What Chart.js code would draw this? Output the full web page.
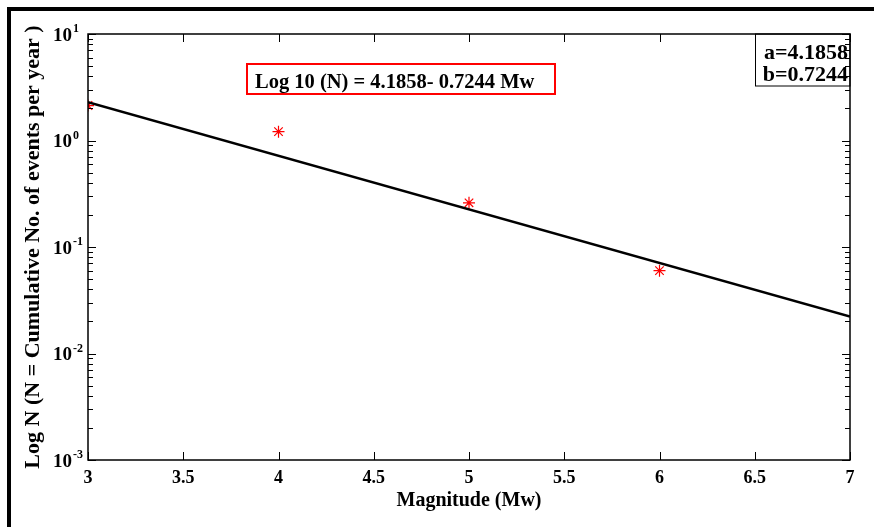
<!DOCTYPE html>
<html>
<head>
<meta charset="utf-8">
<script src="https://cdn.jsdelivr.net/npm/chart.js@4"></script>
<style>
  html, body { margin: 0; padding: 0; background: #fff; }
  #wrap { width: 874px; height: 527px; }
</style>
</head>
<body>
<div id="wrap"><canvas id="chart" width="874" height="527"></canvas></div>
<script>
// observed points (cumulative events per year)
const magnitudes = [3, 4, 5, 6];
const cumulativeN = [2.13, 1.21, 0.26, 0.060];

// fitted line end points as drawn
const fitMagnitudes = [3, 7];
const fitN = [2.29, 0.0222];

const xTicks = [3, 3.5, 4, 4.5, 5, 5.5, 6, 6.5, 7];
const yDecades = [1e-3, 1e-2, 1e-1, 1, 10];
const yExponents = ["-3", "-2", "-1", "0", "1"];

const equationText = "Log 10 (N) = 4.1858- 0.7244 Mw";
const paramLines = ["a=4.1858", "b=0.7244"];

const serif = "'Liberation Serif', 'Times New Roman', serif";

const decor = {
  id: "decor",
  beforeDraw(chart) {
    const c = chart.ctx;
    c.save();
    c.fillStyle = "#fff";
    c.fillRect(0, 0, chart.width, chart.height);
    // outer frame (top and left visible)
    c.fillStyle = "#000";
    c.fillRect(7, 7, chart.width - 7, 4);
    c.fillRect(7, 7, 4, chart.height - 7);
    c.restore();
  },
  afterDraw(chart) {
    const c = chart.ctx;
    const a = chart.chartArea;
    const xs = chart.scales.x, ys = chart.scales.y;
    c.save();
    c.strokeStyle = "#000";
    c.lineWidth = 1.5;
    c.strokeRect(a.left, a.top, a.right - a.left, a.bottom - a.top);

    // x ticks, inward top and bottom
    c.lineWidth = 1;
    c.beginPath();
    xTicks.forEach(v => {
      const px = Math.round(xs.getPixelForValue(v)) + 0.5;
      c.moveTo(px, a.bottom); c.lineTo(px, a.bottom - 8);
      c.moveTo(px, a.top); c.lineTo(px, a.top + 8);
    });
    // y ticks, major and minor, inward on both sides
    yDecades.forEach((d, i) => {
      const py = Math.round(ys.getPixelForValue(d)) + 0.5;
      c.moveTo(a.left, py); c.lineTo(a.left + 8, py);
      c.moveTo(a.right, py); c.lineTo(a.right - 8, py);
      if (i < yDecades.length - 1) {
        for (let k = 2; k <= 9; k++) {
          const pm = Math.round(ys.getPixelForValue(d * k)) + 0.5;
          c.moveTo(a.left, pm); c.lineTo(a.left + 5, pm);
          c.moveTo(a.right, pm); c.lineTo(a.right - 5, pm);
        }
      }
    });
    c.stroke();

    // y tick labels 10^n
    c.fillStyle = "#000";
    yDecades.forEach((d, i) => {
      const py = ys.getPixelForValue(d);
      c.font = "bold 19px " + serif;
      c.textAlign = "right";
      c.textBaseline = "middle";
      c.fillText("10", 72, py + 2);
      c.font = "bold 12px " + serif;
      c.textAlign = "left";
      c.fillText(yExponents[i], 73, py - 5);
    });

    // equation box
    c.strokeStyle = "#ff0000";
    c.lineWidth = 2;
    c.strokeRect(247, 64, 308, 30);
    c.font = "bold 20.5px " + serif;
    c.textAlign = "left";
    c.textBaseline = "alphabetic";
    c.fillText(equationText, 255, 88);

    // parameters box
    c.strokeStyle = "#000";
    c.lineWidth = 1;
    c.strokeRect(755.5, a.top, a.right - 755.5, 52);
    c.font = "bold 22px " + serif;
    c.textAlign = "right";
    c.fillText(paramLines[0], a.right - 2, 59);
    c.fillText(paramLines[1], a.right - 2, 81);
    c.restore();
  }
};

new Chart(document.getElementById("chart"), {
  type: "scatter",
  data: {
    datasets: [
      {
        label: "fit",
        data: fitMagnitudes.map((m, i) => ({ x: m, y: fitN[i] })),
        showLine: true,
        borderColor: "#000",
        borderWidth: 2.5,
        pointRadius: 0
      },
      {
        label: "observed",
        data: magnitudes.map((m, i) => ({ x: m, y: cumulativeN[i] })),
        pointStyle: "star",
        pointRadius: 6,
        borderColor: "#ff0000",
        backgroundColor: "#ff0000",
        pointBorderWidth: 1.2
      }
    ]
  },
  options: {
    responsive: false,
    animation: false,
    layout: { padding: { top: 34, right: 24, left: 0, bottom: 0 } },
    plugins: { legend: { display: false }, tooltip: { enabled: false } },
    scales: {
      x: {
        type: "linear",
        min: 3, max: 7,
        afterFit: s => { s.height = 67; },
        afterBuildTicks: s => { s.ticks = xTicks.map(v => ({ value: v })); },
        ticks: {
          color: "#000",
          font: { family: serif, size: 18, weight: "bold" },
          padding: 8,
          maxRotation: 0,
          callback: v => String(v)
        },
        grid: { drawOnChartArea: false, drawTicks: false },
        border: { display: false },
        title: {
          display: true,
          text: "Magnitude (Mw)",
          color: "#000",
          font: { family: serif, size: 20, weight: "bold" },
          padding: { top: 0, bottom: 14 }
        }
      },
      y: {
        type: "logarithmic",
        min: 1e-3, max: 10,
        afterFit: s => { s.width = 88; },
        ticks: { display: false },
        grid: { drawOnChartArea: false, drawTicks: false },
        border: { display: false },
        title: {
          display: true,
          text: "Log N (N = Cumulative No. of events per year )",
          color: "#000",
          font: { family: serif, size: 22, weight: "bold" },
          padding: { top: 20, bottom: 0 }
        }
      }
    }
  },
  plugins: [decor]
});
</script>
</body>
</html>
